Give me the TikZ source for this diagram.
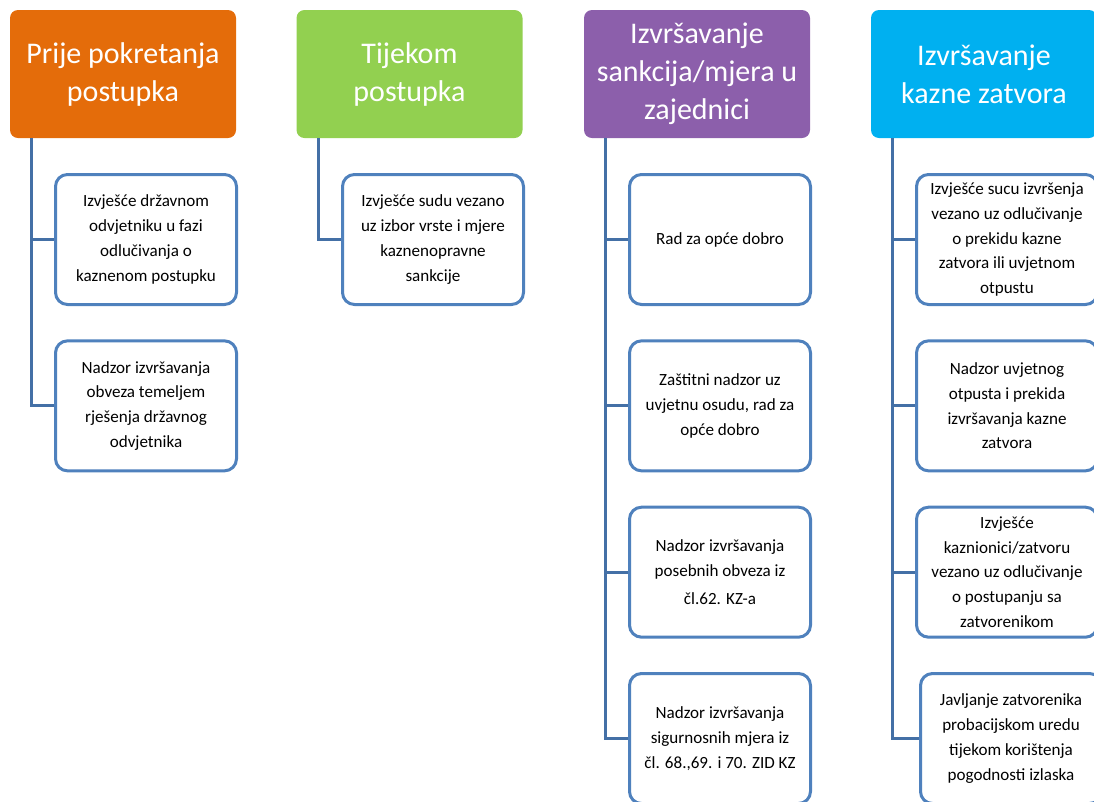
\documentclass[tikz,border=0pt]{standalone}
\usepackage{fontspec}
\setmainfont{Carlito}
\usetikzlibrary{positioning}
\definecolor{orng}{HTML}{E46C0A}
\definecolor{grn}{HTML}{92D050}
\definecolor{prpl}{HTML}{8C5FAB}
\definecolor{cyn}{HTML}{00B0F0}
\definecolor{edge}{HTML}{4F81BD}
\definecolor{wire}{HTML}{4470A6}
\begin{document}
\begin{tikzpicture}[x=0.75pt, y=-0.75pt,
    head/.style = {rounded corners=6pt, minimum width=169.5pt, minimum height=96pt,
                   text=white, align=flush center, text width=167pt, inner sep=1pt,
                   font=\fontsize{22.5}{28.5}\selectfont},
    item/.style = {draw=edge, line width=2.25pt, rounded corners=9pt, fill=white,
                   minimum width=135.75pt, minimum height=97.5pt, text width=134pt,
                   inner sep=0.5pt, align=flush center, font=\fontsize{12.8}{18.6}\selectfont},
    link/.style = {draw=wire, line width=2.25pt}]
        \useasboundingbox (0,0) rectangle (1094,801);
        % headers
        \node[head, fill=orng] (h1) at (123,74) {Prije pokretanja\\postupka};
        \node[head, fill=grn] (h2) at (409.5,74) {Tijekom\\postupka};
        \node[head, fill=prpl] (h3) at (697,74) {Izvršavanje\\sankcija/mjera u\\zajednici};
        \node[head, fill=cyn] (h4) at (984,74) {Izvršavanje\\kazne zatvora};
        %
        \node[item] (k11) at (146,239.5) {Izvješće državnom\\odvjetniku u fazi\\odlučivanja o\\kaznenom postupku};
        \node[item] (k12) [below=25pt of k11] {Nadzor izvršavanja\\obveza temeljem\\rješenja državnog\\odvjetnika};
        %
        \node[item] (k21) at (433,239.5) {Izvješće sudu vezano\\uz izbor vrste i mjere\\kaznenopravne\\sankcije};
        %
        \node[item] (k31) at (720,239.5) {Rad za opće dobro};
        \node[item] (k32) [below=25pt of k31] {Zaštitni nadzor uz\\uvjetnu osudu, rad za\\opće dobro};
        \node[item] (k33) [below=25pt of k32] {Nadzor izvršavanja\\posebnih obveza iz\\[3pt]čl.62. KZ-a};
        \node[item] (k34) [below=25pt of k33] {Nadzor izvršavanja\\sigurnosnih mjera iz\\čl. 68.,69. i 70. ZID KZ};
        %
        \node[item] (k41) at (1007,239.5) {Izvješće sucu izvršenja\\vezano uz odlučivanje\\o prekidu kazne\\zatvora ili uvjetnom\\otpustu};
        \node[item] (k42) [below=25pt of k41] {Nadzor uvjetnog\\otpusta i prekida\\izvršavanja kazne\\zatvora};
        \node[item] (k43) [below=25pt of k42] {Izvješće\\kaznionici/zatvoru\\vezano uz odlučivanje\\o postupanju sa\\zatvorenikom};
        \node[item] (k44) [below=25pt of k43, xshift=3pt] {Javljanje zatvorenika\\probacijskom uredu\\tijekom korištenja\\pogodnosti izlaska};
        %
        \coordinate (t1) at ([xshift=16.5pt]h1.south west);
        \coordinate (t2) at ([xshift=16.5pt]h2.south west);
        \coordinate (t3) at ([xshift=16.5pt]h3.south west);
        \coordinate (t4) at ([xshift=16.5pt]h4.south west);
        \draw[link] (t1) |- (k11.west);
        \draw[link] (t1) |- (k12.west);
        \draw[link] (t2) |- (k21.west);
        \draw[link] (t3) |- (k31.west);
        \draw[link] (t3) |- (k32.west);
        \draw[link] (t3) |- (k33.west);
        \draw[link] (t3) |- (k34.west);
        \draw[link] (t4) |- (k41.west);
        \draw[link] (t4) |- (k42.west);
        \draw[link] (t4) |- (k43.west);
        \draw[link] (t4) |- (k44.west);
      \end{tikzpicture}
\end{document}
